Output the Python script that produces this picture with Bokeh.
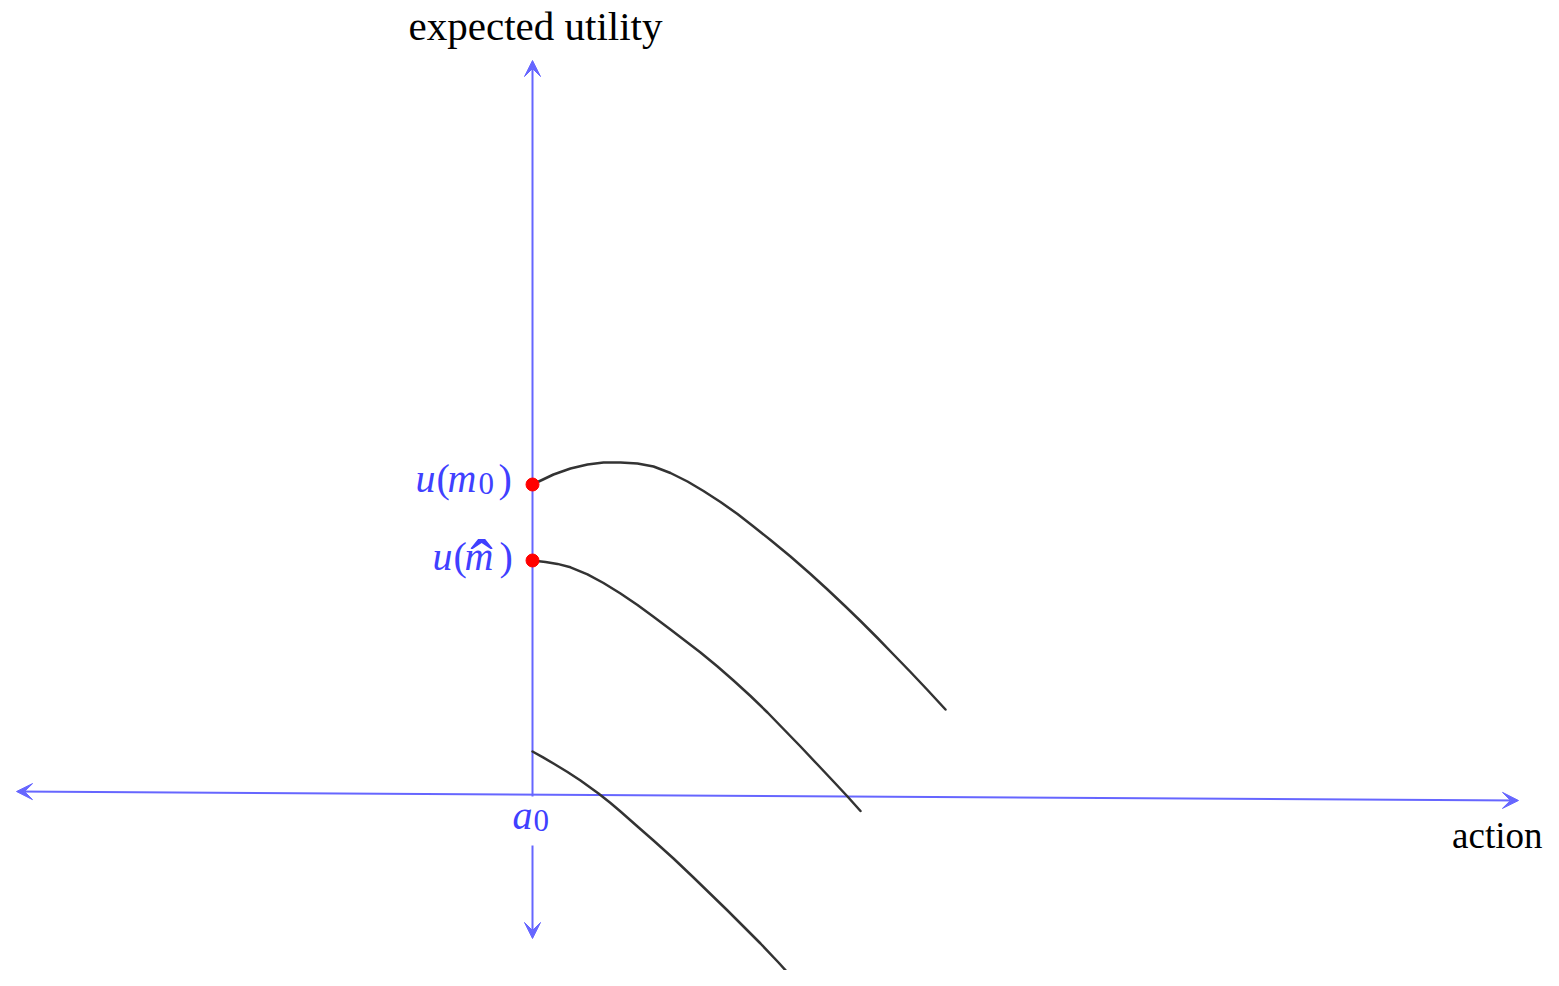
from bokeh.plotting import figure
from bokeh.models import Range1d, ColumnDataSource, Arrow, VeeHead
from bokeh.core.properties import value
from bokeh.embed import file_html
from bokeh.resources import INLINE

# ---------------- data (diagram units: action on x, expected utility on y) ----------------
a0 = 0.0
u_m0 = 3.10
u_mhat = 2.34

curve_m0_x = [0.00, 0.21, 0.38, 0.55, 0.71, 0.88, 1.05, 1.21, 1.38, 1.55, 1.71, 1.88, 2.05,
              2.21, 2.38, 2.58, 2.78, 2.95, 3.13, 3.28, 3.45, 3.61, 3.78, 3.95, 4.13]
curve_m0_y = [3.100, 3.200, 3.260, 3.300, 3.320, 3.320, 3.310, 3.280, 3.215, 3.130, 3.035,
              2.925, 2.805, 2.680, 2.545, 2.380, 2.205, 2.050, 1.880, 1.735, 1.565, 1.400,
              1.225, 1.045, 0.850]

curve_mhat_x = [0.00, 0.13, 0.25, 0.38, 0.55, 0.71, 0.88, 1.05, 1.21, 1.38, 1.53, 1.68, 1.85,
                2.01, 2.18, 2.35, 2.51, 2.68, 2.85, 3.01, 3.15, 3.28]
curve_mhat_y = [2.340, 2.325, 2.306, 2.272, 2.202, 2.115, 2.010, 1.895, 1.777, 1.650, 1.535,
                1.420, 1.280, 1.140, 0.985, 0.820, 0.655, 0.480, 0.300, 0.130, -0.020, -0.165]

curve_low_x = [0.00, 0.11, 0.21, 0.35, 0.48, 0.66, 0.78, 0.88, 1.05, 1.21, 1.41, 1.61, 1.78,
               1.95, 2.11, 2.28, 2.46, 2.65]
curve_low_y = [0.430, 0.368, 0.310, 0.225, 0.140, 0.010, -0.085, -0.170, -0.320, -0.460,
               -0.640, -0.830, -0.995, -1.160, -1.320, -1.490, -1.680, -1.890]

# axes (start/end of the double-headed arrows)
axis_x0 = [-5.16, 0.00]
axis_y0 = [0.03, -1.44]
axis_x1 = [9.86, 0.00]
axis_y1 = [-0.06, 7.34]

axis_titles = ["expected utility", "action"]
title_x = [0.03, 10.10]
title_y = [7.69, -0.41]

# ---------------- styles ----------------
AXIS_BLUE = "#6666ff"
TEXT_BLUE = "#4040ff"
CURVE = "#333333"
FONT = value("Liberation Serif")
FS = "40px"
FS_SUB = "31px"

p = figure(width=1543, height=970, output_backend="svg", toolbar_location=None,
           x_range=Range1d(-5.32, 10.11), y_range=Range1d(-1.76, 7.94),
           min_border=0, outline_line_color=None, background_fill_color="white",
           border_fill_color="white")
p.axis.visible = False
p.grid.visible = False

# axes as arrows (drawn below glyphs)
axes_src = ColumnDataSource(dict(x0=axis_x0, y0=axis_y0, x1=axis_x1, y1=axis_y1))
arrow = Arrow(x_start="x0", y_start="y0", x_end="x1", y_end="y1", source=axes_src,
              line_color=AXIS_BLUE, line_width=2,
              start=VeeHead(size=16, fill_color=AXIS_BLUE, fill_alpha=1.0,
                            line_color=AXIS_BLUE, line_width=1),
              end=VeeHead(size=16, fill_color=AXIS_BLUE, fill_alpha=1.0,
                          line_color=AXIS_BLUE, line_width=1),
              level="underlay")
p.add_layout(arrow)

# white background behind the a0 label
p.quad(left=[a0 - 0.32], right=[a0 + 0.32], top=[-0.02], bottom=[-0.51],
       fill_color="white", line_color=None)

# curves
for xs, ys in [(curve_m0_x, curve_m0_y), (curve_mhat_x, curve_mhat_y), (curve_low_x, curve_low_y)]:
    p.line(xs, ys, line_color=CURVE, line_width=2.5, line_join="round", line_cap="round")

# red dots
p.scatter([a0, a0], [u_m0, u_mhat], size=13, fill_color="#ff0000", line_color="#ff0000")

# axis titles
p.text(x=[title_x[0]], y=[title_y[0]], text=[axis_titles[0]], text_font=FONT,
       text_font_size="41px", text_color="black", text_align="center",
       text_baseline="alphabetic")
p.text(x=[title_x[1]], y=[title_y[1]], text=[axis_titles[1]], text_font=FONT,
       text_font_size="37px", text_color="black", text_align="right",
       text_baseline="alphabetic")


def math_label(x, y, pieces):
    for txt, style, size, dx, dy, align in pieces:
        p.text(x=[x], y=[y], text=[txt], text_font=FONT, text_font_size=size,
               text_font_style=style, text_color=TEXT_BLUE, text_align=align,
               text_baseline="alphabetic", x_offset=dx, y_offset=dy)


math_label(a0, u_m0, [
    ("u", "italic", FS, -117, -6, "left"),
    ("(", "normal", FS, -96, -6, "left"),
    ("m", "italic", FS, -85, -6, "left"),
    ("0", "normal", FS_SUB, -54, -1, "left"),
    (")", "normal", FS, -34, -6, "left"),
])
math_label(a0, u_mhat, [
    ("u", "italic", FS, -100, -4, "left"),
    ("(", "normal", FS, -79, -4, "left"),
    ("m", "italic", FS, -68, -4, "left"),
    ("\u02c6", "normal", "68px", -51, 2, "center"),
    (")", "normal", FS, -33, -4, "left"),
])
math_label(a0, 0.0, [
    ("a", "italic", FS, -20, 21, "left"),
    ("0", "normal", FS_SUB, 1, 26, "left"),
])

open("out.html", "w").write(file_html(p, INLINE))
